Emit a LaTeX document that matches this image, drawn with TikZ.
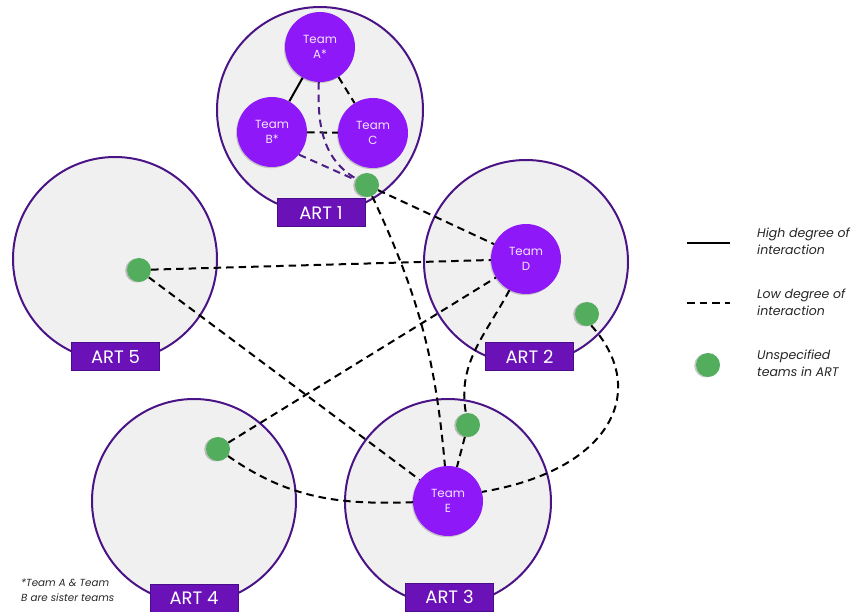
\documentclass[tikz,border=0pt]{standalone}
\usepackage{fontspec}
\setmainfont{Poppins}
\usetikzlibrary{shadows}
\pgfdeclarelayer{base}
\pgfdeclarelayer{back}
\pgfdeclarelayer{mid}
\pgfsetlayers{base,back,mid,main}
\definecolor{artfill}{HTML}{F0F0F0}
\definecolor{artline}{HTML}{4A1486}
\definecolor{labfill}{HTML}{6A12B8}
\definecolor{labline}{HTML}{4A0C8A}
\definecolor{teamfill}{HTML}{8F18F8}
\definecolor{teamtext}{HTML}{F3E6FF}
\definecolor{greendot}{HTML}{52AD5C}
\definecolor{purpdash}{HTML}{4B1F85}
\tikzset{
  artcircle/.style={circle, draw=artline, fill=artfill, line width=2pt, inner sep=0pt},
  artlabel/.style={draw=labline, fill=labfill, line width=1pt, minimum width=88pt, minimum height=28pt, inner sep=0pt, text=white, font=\fontsize{18}{20}\selectfont},
  team/.style={circle, fill=teamfill, minimum size=70pt, inner sep=0pt, text=teamtext, align=center, font=\fontsize{11.8}{15}\selectfont,
    drop shadow={shadow xshift=-1pt, shadow yshift=-1.2pt, opacity=0.18, fill=black}},
  gdot/.style={circle, fill=greendot, minimum size=24pt, inner sep=0pt,
    drop shadow={shadow xshift=-1.8pt, shadow yshift=-0.5pt, opacity=0.22, fill=black}},
  high/.style={line width=2pt, black},
  low/.style={line width=2pt, black, dash pattern=on 7.5pt off 5pt},
  lowp/.style={line width=2pt, purpdash, dash pattern=on 7.5pt off 5pt},
  legtext/.style={anchor=west, align=left, inner sep=0pt, font=\fontsize{12.5}{17}\selectfont\itshape, text=black!85},
}
\begin{document}
\begin{tikzpicture}[x=1pt,y=1pt]
\useasboundingbox (0,0) rectangle (857,611);
\begin{pgfonlayer}{base}
\fill[white] (0,0) rectangle (857,611);
\end{pgfonlayer}
\begin{pgfonlayer}{back}
\node[artcircle, minimum size=206pt] (art1) at (320,501) {};
\node[artcircle, minimum size=204pt] (art5) at (115,352) {};
\node[artcircle, minimum size=204pt] (art2) at (526,349) {};
\node[artcircle, minimum size=204pt] (art4) at (194,110) {};
\node[artcircle, minimum size=206pt] (art3) at (448,109) {};
\end{pgfonlayer}
% labels
\node[artlabel] (l1) at (321,398.5) {ART 1};
\node[artlabel] (l5) at (115.5,254) {ART 5};
\node[artlabel] (l2) at (529.5,254) {ART 2};
\node[artlabel] (l4) at (194,13) {ART 4};
\node[artlabel] (l3) at (449.5,14) {ART 3};
% teams
\node[team] (A) at (320,564) {Team\\A*};
\node[team] (B) at (272,479) {Team\\B*};
\node[team] (C) at (373,478) {Team\\C};
\node[team] (D) at (526,352) {Team\\D};
\node[team] (E) at (448,110) {Team\\E};
% green dots
\node[gdot] (g1) at (367,426) {};
\node[gdot] (g5) at (139,341) {};
\node[gdot] (g2) at (587,297) {};
\node[gdot] (g4) at (218,162) {};
\node[gdot] (g3) at (468,186) {};
% connectors
\begin{pgfonlayer}{mid}
\draw[high] (A) -- (B);
\draw[low] (A) -- (C);
\draw[low] (B) -- (C);
\draw[lowp] (A) to[out=-92,in=150] (g1);
\draw[lowp] (B.-40) -- (g1);
\draw[low] (g1) -- (D);
\draw[low] (g1) to[out=-65,in=95] (E);
\draw[low] (g5) -- (D);
\draw[low] (g5) -- (E);
\draw[low] (g4) -- (D);
\draw[low] (g4) to[out=-35,in=182] (E);
\draw[low] (D) to[out=-118,in=100] (g3);
\draw[low] (g3) -- (E);
\draw[low] (g2.-70) .. controls (650,221) and (612,141) .. (E.15);
\end{pgfonlayer}
% legend
\coordinate (h1) at (687,368);
\coordinate (h2) at (730,368);
\draw[high] (h1) -- (h2);
\node[legtext] (ht) at (757,370) {High degree of\\interaction};
\coordinate (d1) at (687,308);
\coordinate (d2) at (730,308);
\draw[low] (d1) -- (d2);
\node[legtext] (dt) at (757,309) {Low degree of\\interaction};
\node[gdot] (lg) at (708,246) {};
\node[legtext] (gt) at (757,248) {Unspecified\\teams in ART};
% footnote
\node[anchor=west, align=left, inner sep=0pt, font=\fontsize{10.3}{15}\selectfont\itshape, text=black!85] (fn) at (21,21) {*Team A \& Team\\B are sister teams};
\end{tikzpicture}
\end{document}
